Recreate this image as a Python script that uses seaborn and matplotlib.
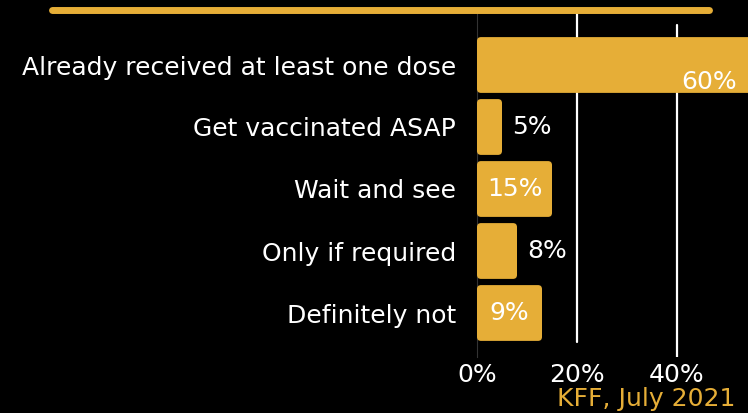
import matplotlib
matplotlib.use("Agg")
import matplotlib.pyplot as plt
import seaborn as sns
from matplotlib.patches import FancyBboxPatch
from matplotlib.lines import Line2D

# === Data ===
answers = ["Already received at least one dose", "Get vaccinated ASAP",
           "Wait and see", "Only if required", "Definitely not"]
shares = [60, 5, 15, 8, 13]          # bar lengths as drawn in the source
share_labels = ["60%", "5%", "15%", "8%", "9%"]
x_ticks = [0, 20, 40]
source_note = "KFF, July 2021"

gold = "#E6AE37"
W, H = 748, 413

sns.set_theme(style="white")
plt.rcParams["font.family"] = ["DejaVu Sans"]

fig = plt.figure(figsize=(W / 100, H / 100), dpi=100, facecolor="black")
# axes placed in pixel terms: x 0% at 477 px, 5 px per percent; y from 13 to 357 px
left, right = 477, 477 + 5 * 60
top, bottom = 13, 357
ax = fig.add_axes([left / W, 1 - bottom / H, (right - left) / W, (bottom - top) / H])
ax.set_facecolor("black")

sns.barplot(x=shares, y=answers, orient="h", color=gold, width=0.9,
            saturation=1, ax=ax, zorder=3)
ax.set_xlim(0, 60)
ax.set_ylim((bottom - 65) / 62, (top - 65) / 62)

# swap rectangles for slightly rounded ones
px_x, px_y = 5.0, 62.0
for p in list(ax.patches):
    x0, y0, w, h = p.get_x(), p.get_y(), p.get_width(), p.get_height()
    p.set_visible(False)
    rb = FancyBboxPatch((x0, y0), w, h,
                        boxstyle="round,pad=0,rounding_size=0.8",
                        mutation_aspect=px_x / px_y,
                        facecolor=gold, edgecolor="none", zorder=3)
    ax.add_patch(rb)

# gridlines
ax.axvline(20, ymin=(bottom - 342) / (bottom - top), ymax=1, color="white", lw=1.6, zorder=1)
ax.axvline(40, ymin=0, ymax=(bottom - 25) / (bottom - top), color="white", lw=1.6, zorder=1)

fs = 18
# value labels
for i, (v, lab) in enumerate(zip(shares, share_labels)):
    if v >= 30:
        ax.text(52, i + 0.28, lab, ha="right", va="center", color="white",
                fontsize=fs, zorder=4)
    elif v >= 12:
        ax.text(v / 2, i, lab, ha="center", va="center", color="white",
                fontsize=fs, zorder=4)
    else:
        ax.text(v + 2, i, lab, ha="left", va="center", color="white",
                fontsize=fs, zorder=4)

ax.set_xticks(x_ticks)
ax.set_xticklabels([f"{t}%" for t in x_ticks])
ax.tick_params(axis="x", colors="white", labelsize=fs, length=0, pad=4)
ax.tick_params(axis="y", colors="white", labelsize=fs, length=0, pad=15)
for lab in ax.get_yticklabels():
    lab.set_color("white")
ax.set_xlabel("")
ax.set_ylabel("")
for s in ["top", "right", "bottom"]:
    ax.spines[s].set_visible(False)
ax.spines["left"].set_color("#333333")
ax.spines["left"].set_linewidth(0.8)

# decorative top rule and source
fig.add_artist(Line2D([52 / W, 709 / W], [1 - 9.5 / H, 1 - 9.5 / H], color=gold,
                      lw=5, solid_capstyle="round"))
fig.text(735 / W, 1 - 387 / H, source_note, ha="right", va="top", color=gold,
         fontsize=fs)

fig.savefig("out.png", dpi=100, facecolor="black")
